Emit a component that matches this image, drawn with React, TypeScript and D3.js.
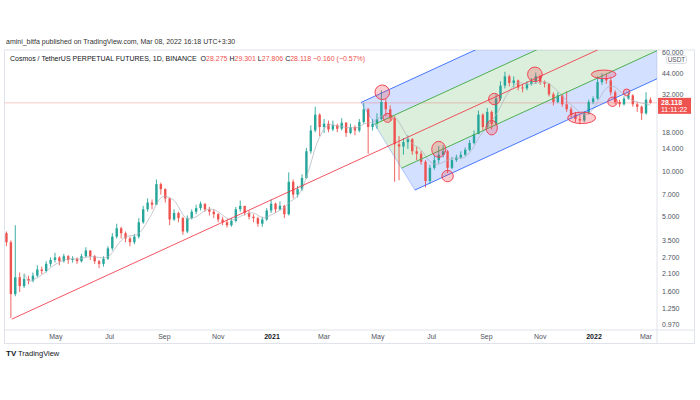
import React from "react";
import * as d3 from "d3";

// ---------- data (5-day candles) ----------
const START_DATE = "2020-03-06";
const STEP_DAYS = 5;
const FIRST_OPEN = 3.9;
const closes = [
  3.4, 1.55, 2.0, 1.75, 1.95, 1.9, 2.05, 2.25, 2.2, 2.45,
  2.6, 2.7, 2.55, 2.75, 2.6, 2.65, 2.55, 2.75, 3.0, 2.75,
  2.55, 2.45, 2.65, 3.1, 3.7, 4.2, 3.9, 3.6, 3.4, 3.7,
  4.6, 5.6, 6.2, 6.0, 8.2, 7.6, 6.6, 4.8, 5.3, 4.9,
  4.0, 4.9, 5.4, 5.7, 6.1, 5.6, 5.4, 5.2, 4.8, 4.6,
  4.4, 4.7, 5.6, 5.9, 5.3, 5.0, 4.9, 4.5, 4.8, 5.5,
  6.1, 5.6, 5.9, 5.2, 8.5, 7.0, 7.6, 9.0, 13.5, 18.5,
  23.5, 19.5, 20.5, 18.8, 20.0, 19.0, 20.8, 17.8, 19.5, 18.5,
  21.0, 25.5, 19.5, 20.5, 22.0, 28.5, 25.5, 22.5, 15.0, 14.5,
  15.5, 16.2, 13.5, 13.0, 11.5, 8.6, 10.5, 11.8, 12.8, 13.5,
  10.5, 11.8, 12.3, 12.8, 13.8, 15.3, 17.5, 23.5, 19.5, 24.5,
  20.5, 30.0, 36.5, 42.0, 38.0, 39.5, 35.5, 35.0, 37.5, 39.0,
  42.0, 38.5, 37.5, 32.0, 28.5, 31.5, 27.5, 25.5, 23.5, 22.0,
  21.5, 24.0, 28.5, 30.0, 38.5, 40.5, 39.5, 33.0, 28.5, 27.5,
  30.0, 31.5, 27.5, 26.5, 24.0, 29.5, 28.118,
];
const highs = [
  4.0, 3.5, 4.4, 2.15, 2.1, 2.05, 2.15, 2.4, 2.35, 2.55,
  2.7, 2.9, 2.75, 2.85, 2.8, 2.75, 2.7, 2.85, 3.15, 3.0,
  2.8, 2.6, 2.75, 3.2, 3.9, 4.5, 4.3, 4.0, 3.7, 3.85,
  4.9, 5.9, 6.6, 6.5, 8.8, 8.4, 7.7, 6.7, 5.6, 5.4,
  5.0, 5.1, 5.6, 6.0, 6.3, 6.1, 5.8, 5.6, 5.3, 5.0,
  4.8, 4.9, 5.8, 6.4, 5.9, 5.5, 5.2, 5.0, 5.0, 5.7,
  6.5, 6.2, 6.3, 6.0, 9.8, 8.8, 8.0, 9.5, 14.2, 20,
  26.5, 24, 22, 21.5, 21.5, 20.5, 22.3, 21, 20.5, 20,
  22, 28, 26, 22, 24, 34, 30, 27, 23, 17,
  16.5, 17.2, 16.5, 14.5, 13.5, 11.8, 11, 12.6, 14.6, 14.8,
  13.8, 12.4, 12.8, 13.5, 14.3, 16, 18.5, 25, 24, 26,
  25, 32, 39, 45, 43, 42, 40, 37, 39, 41,
  44.5, 43, 39.5, 38, 33, 33, 32, 33.5, 26.5, 24.5,
  23.5, 24.8, 29.5, 31, 42, 44, 43.5, 41, 34, 29.5,
  31, 33, 32, 28.5, 27, 33, 30.5,
];
const lows = [
  3.2, 1.08, 1.5, 1.6, 1.7, 1.8, 1.85, 2.0, 2.1, 2.15,
  2.35, 2.5, 2.4, 2.5, 2.45, 2.5, 2.45, 2.5, 2.7, 2.6,
  2.45, 2.3, 2.35, 2.6, 3.0, 3.6, 3.6, 3.4, 3.2, 3.3,
  3.6, 4.5, 5.4, 5.6, 6.0, 7.0, 6.2, 4.4, 4.7, 4.6,
  3.8, 3.9, 4.8, 5.2, 5.5, 5.4, 5.1, 4.9, 4.6, 4.4,
  4.25, 4.3, 4.6, 5.4, 5.1, 4.8, 4.6, 4.3, 4.3, 4.7,
  5.3, 5.3, 5.5, 4.9, 5.1, 6.6, 6.7, 7.4, 8.9, 13,
  18, 17, 17.8, 18, 18.3, 18, 18.5, 16.8, 17.5, 17.2,
  18, 20.5, 13, 18.5, 19, 21.5, 23, 21.5, 8.5, 8.7,
  12.8, 14, 12.8, 11.8, 11, 7.8, 8.2, 10.2, 11.2, 12.3,
  9.7, 10.3, 11.5, 12, 12.6, 13.5, 15, 17.5, 18.5, 19.2,
  18.8, 20, 29, 35, 36, 35.5, 34, 33, 34, 36.5,
  37.5, 37, 35.5, 31, 27, 28, 26.5, 24.5, 22.5, 21,
  20.3, 21, 23.5, 27.5, 29.5, 37, 37.5, 31.5, 27.5, 26.3,
  27, 29.5, 26.5, 24.5, 21.7, 23.5, 27.8,
];

const priceTicks = [0.97, 1.25, 1.6, 2.1, 2.7, 3.5, 5, 7, 10, 14, 18, 32, 44, 60];
const timeTickDates = [
  "2020-05-01", "2020-07-01", "2020-09-01", "2020-11-01", "2021-01-01", "2021-03-01",
  "2021-05-01", "2021-07-01", "2021-09-01", "2021-11-01", "2022-01-01", "2022-03-01",
];
const timeTickLabels = ["May", "Jul", "Sep", "Nov", "2021", "Mar", "May", "Jul", "Sep", "Nov", "2022", "Mar"];

// Andrews' pitchfork anchors: pivot, upper, lower
const pitchforkDates = ["2020-03-12", "2021-04-12", "2021-06-12"];
const pitchforkPrices = [1.06, 28.3, 7.5];

// highlight ellipses
const markDates = [
  "2021-05-06", "2021-05-12", "2021-07-09", "2021-07-19", "2021-09-10", "2021-09-07",
  "2021-10-26", "2021-12-18", "2022-01-12", "2022-01-22", "2022-02-07",
];
const markPrices = [33, 22.4, 13.9, 9.27, 29.8, 19.3, 43.3, 22.4, 43.3, 28.6, 33];
const markRx = [7.3, 4.5, 7, 5.7, 5.7, 5.7, 7.3, 14, 12.3, 4.7, 3.3];
const markRy = [7.3, 4.5, 8, 5.7, 5.7, 7.3, 7.3, 5.7, 4.3, 4.7, 3.3];

const LAST_PRICE = 28.118;

// ---------- layout ----------
const W = 700;
const H = 400;
const PANE_L = 4.5;
const PANE_R = 657;
const PANE_T = 50;
const PANE_B = 330;
const FRAME_R = 694.5;
const FRAME_B = 343.5;

const UP = "#26a69a";
const DOWN = "#ef5350";
const FONT = "'Liberation Sans', 'DejaVu Sans', sans-serif";

const parse = (s: string) => new Date(s + "T00:00:00Z");

export default function App() {
  const x = d3.scaleUtc().domain([parse("2021-01-01"), parse("2022-01-01")]).range([272, 594]);
  const y = d3.scaleLog().domain([0.97, 44]).range([325, 73.3]);

  const start = parse(START_DATE);
  const candles = closes.map((c, i) => {
    const date = d3.utcDay.offset(start, i * STEP_DAYS);
    const o = i === 0 ? FIRST_OPEN : closes[i - 1];
    return { date, o, c, h: highs[i], l: lows[i] };
  });

  // SMA indicator (5 candles)
  const sma = candles
    .map((d, i) => {
      if (i < 4) return null;
      const v = d3.mean(closes.slice(i - 4, i + 1)) as number;
      return [x(d.date), y(v)] as [number, number];
    })
    .filter(Boolean) as [number, number][];
  const smaPath = d3.line().curve(d3.curveBasis)(sma) || "";

  // pitchfork geometry in pixel space
  const P = pitchforkDates.map((d, i) => [x(parse(d)), y(pitchforkPrices[i])]);
  const M = [(P[1][0] + P[2][0]) / 2, (P[1][1] + P[2][1]) / 2];
  const slope = (M[1] - P[0][1]) / (M[0] - P[0][0]);
  const startAt = (f: number) => [M[0] + f * (P[1][0] - M[0]), M[1] + f * (P[1][1] - M[1])];
  const endAt = (f: number) => {
    const s = startAt(f);
    return [PANE_R, s[1] + slope * (PANE_R - s[0])];
  };
  const band = (a: number, b: number) => {
    const pts = [startAt(a), startAt(b), endAt(b), endAt(a)];
    return "M" + pts.map((p) => p.join(",")).join("L") + "Z";
  };
  const lineAt = (f: number) => {
    const s = startAt(f);
    const e = endAt(f);
    return { x1: s[0], y1: s[1], x2: e[0], y2: e[1] };
  };
  const medEnd = endAt(0);

  const bodyW = 2.4;
  const lastY = y(LAST_PRICE);

  return (
    <div style={{ position: "fixed", left: 0, top: 0 }}>
      <svg width={W} height={H} style={{ display: "block", background: "#fff" }} fontFamily={FONT}>
        <defs>
          <clipPath id="pane">
            <rect x={PANE_L} y={PANE_T} width={PANE_R - PANE_L} height={PANE_B - PANE_T} />
          </clipPath>
          <clipPath id="axis">
            <rect x={PANE_R} y={PANE_T} width={FRAME_R - PANE_R} height={PANE_B - PANE_T} />
          </clipPath>
        </defs>

        <text x={6} y={44} fontSize={7} fill="#333">
          amini_bitfa published on TradingView.com, Mar 08, 2022 16:18 UTC+3:30
        </text>

        {/* frame */}
        <rect x={PANE_L} y={PANE_T} width={FRAME_R - PANE_L} height={FRAME_B - PANE_T} fill="none" stroke="#e0e3eb" />
        <line x1={PANE_L} x2={FRAME_R} y1={PANE_B} y2={PANE_B} stroke="#e0e3eb" />
        <line x1={PANE_R} x2={PANE_R} y1={PANE_T} y2={FRAME_B} stroke="#e0e3eb" />

        <g clipPath="url(#pane)">
          {/* pitchfork fills */}
          <path d={band(0.5, 1)} fill="rgba(41,98,255,0.2)" />
          <path d={band(-1, -0.5)} fill="rgba(41,98,255,0.2)" />
          <path d={band(-0.5, 0.5)} fill="rgba(76,175,80,0.2)" />

          {/* last price line */}
          <line x1={PANE_L} x2={PANE_R} y1={lastY} y2={lastY} stroke="#ef5350" strokeOpacity={0.4} strokeWidth={0.8} />

          {/* candles */}
          {candles.map((d, i) => {
            const col = d.c >= d.o ? UP : DOWN;
            const cx = x(d.date);
            const yt = y(Math.max(d.o, d.c));
            const yb = y(Math.min(d.o, d.c));
            return (
              <g key={i}>
                <line x1={cx} x2={cx} y1={y(d.h)} y2={y(d.l)} stroke={col} strokeWidth={0.9} />
                <rect x={cx - bodyW / 2} y={yt} width={bodyW} height={Math.max(1, yb - yt)} fill={col} />
              </g>
            );
          })}

          {/* moving average */}
          <path d={smaPath} fill="none" stroke="#b2b5be" strokeWidth={1} strokeOpacity={0.75} />

          {/* pitchfork lines */}
          <line x1={P[1][0]} y1={P[1][1]} x2={P[2][0]} y2={P[2][1]} stroke="#2962ff" strokeOpacity={0.3} strokeWidth={1} />
          <line {...lineAt(1)} stroke="#2962ff" strokeOpacity={0.85} strokeWidth={1} />
          <line {...lineAt(-1)} stroke="#2962ff" strokeOpacity={0.85} strokeWidth={1} />
          <line {...lineAt(0.5)} stroke="#4caf50" strokeWidth={1} />
          <line {...lineAt(-0.5)} stroke="#4caf50" strokeWidth={1} />
          <line x1={P[0][0]} y1={P[0][1]} x2={medEnd[0]} y2={medEnd[1]} stroke="#f23645" strokeWidth={1} strokeOpacity={0.85} />

          {/* highlight ellipses */}
          {markDates.map((d, i) => (
            <ellipse
              key={i}
              cx={x(parse(d))}
              cy={y(markPrices[i])}
              rx={markRx[i]}
              ry={markRy[i]}
              fill="rgba(242,54,69,0.25)"
              stroke="#f23645"
              strokeWidth={0.9}
            />
          ))}
        </g>

        {/* header legend */}
        <text x={10} y={61} fontSize={7} fill="#131722">
          Cosmos / TetherUS PERPETUAL FUTURES, 1D, BINANCE{"\u00a0\u00a0"}O<tspan fill={DOWN}>28.275</tspan>{" "}
          H<tspan fill={DOWN}>29.301</tspan> L<tspan fill={DOWN}>27.806</tspan> C<tspan fill={DOWN}>28.118</tspan>{" "}
          <tspan fill={DOWN}>−0.160 (−0.57%)</tspan>
        </text>

        {/* price axis */}
        <g clipPath="url(#axis)">
          {priceTicks.map((p) => (
            <text key={p} x={662} y={y(p)} dy="0.35em" fontSize={7} fill="#50535e">
              {p.toFixed(3)}
            </text>
          ))}
        </g>
        <rect x={666.5} y={55.5} width={20} height={8} rx={2} fill="#fff" stroke="#d1d4dc" strokeWidth={0.8} />
        <text x={676.5} y={59.5} dy="0.35em" fontSize={6.5} textAnchor="middle" fill="#50535e">
          USDT
        </text>
        <rect x={658} y={lastY - 5} width={33} height={16} fill="#ef5350" />
        <text x={661} y={lastY} dy="0.35em" fontSize={7} fontWeight="bold" fill="#fff">
          {LAST_PRICE.toFixed(3)}
        </text>
        <text x={661} y={lastY + 7} dy="0.35em" fontSize={7} fill="#fff">
          11:11:22
        </text>

        {/* time axis */}
        {timeTickDates.map((d, i) => {
          const bold = /^\d{4}$/.test(timeTickLabels[i]);
          return (
            <text
              key={d}
              x={x(parse(d))}
              y={337}
              dy="0.35em"
              fontSize={7}
              textAnchor="middle"
              fill={bold ? "#131722" : "#50535e"}
              fontWeight={bold ? "bold" : "normal"}
            >
              {timeTickLabels[i]}
            </text>
          );
        })}

        {/* logo */}
        <text x={6} y={356} fontSize={8} fontWeight="bold" fill="#131722">
          TV
        </text>
        <text x={18} y={356} fontSize={7.5} fill="#131722">
          TradingView
        </text>
      </svg>
    </div>
  );
}
